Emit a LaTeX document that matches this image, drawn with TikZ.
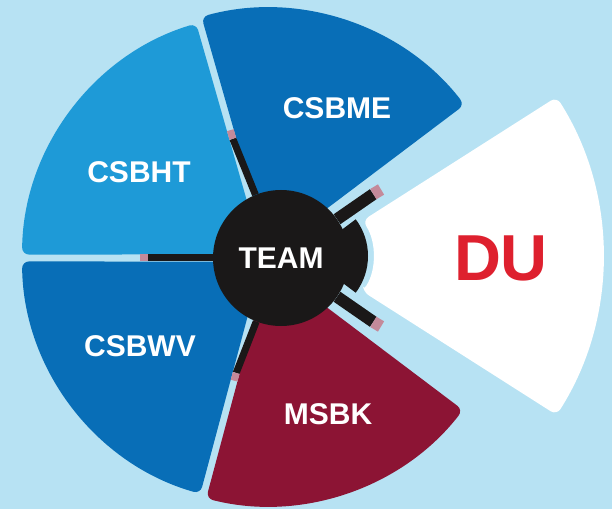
\documentclass[tikz,border=0pt]{standalone}
\usepackage{fontspec}
\setmainfont{Liberation Sans}
\usepackage{tikz}
\usetikzlibrary{calc}
\definecolor{skyback}{RGB}{183,226,243}
\definecolor{htblue}{RGB}{30,154,215}
\definecolor{meblue}{RGB}{8,110,183}
\definecolor{bkred}{RGB}{140,20,52}
\definecolor{dured}{RGB}{222,32,46}
\definecolor{hubblack}{RGB}{26,24,24}
\definecolor{tippink}{RGB}{196,138,154}
% one piece of the wheel: start angle, end angle, radius, colour
\newcommand{\wheelpiece}[4]{%
  \fill[piece, #4] ($(w)+({(#1+#2)/2}:6)$) -- ($(w)+({#1+0.8}:#3)$)
    arc[start angle={#1+0.8}, end angle={#2-0.8}, radius=#3] -- cycle;}

\begin{document}
\begin{tikzpicture}[x=1pt, y=1pt,
piece/.style={rounded corners=7pt},
piecetext/.style={text=white, font=\bfseries\fontsize{30}{30}\selectfont},
hub/.style={circle, fill=hubblack, minimum size=136pt, inner sep=0pt, text=white, font=\bfseries\fontsize{30}{30}\selectfont},
spoke/.style={draw=hubblack, line width=7pt},
spoketip/.style={draw=tippink, line width=7pt}
]
    %Background
    \fill[skyback] (0,0) rectangle (612,509);
    \useasboundingbox (0,0) rectangle (612,509);
    \coordinate (w) at (267,251);
    \coordinate (d) at (307,253);

    %Pieces
    \wheelpiece{37}{106}{250}{meblue}
    \wheelpiece{106}{180}{245}{htblue}
    \wheelpiece{180}{255}{245}{meblue}
    \wheelpiece{255}{323}{248}{bkred}
    \fill[piece, white] ($(d)+(-32.5:66)$) -- ($(d)+(-32.5:296)$)
        arc[start angle=-32.5, end angle=32.5, radius=296]
        -- ($(d)+(32.5:66)$) arc[start angle=32.5, end angle=-32.5, radius=66] -- cycle;

    %Hub
    \fill[hubblack] (d) -- ($(d)+(-37:61)$) arc[start angle=-37, end angle=37, radius=61] -- cycle;
    \node[hub] (team) at (281,251) {TEAM};

    %Spokes
    \coordinate (sp1) at ($(w)+(106:124)$);
    \coordinate (tp1) at ($(w)+(106:133)$);
    \coordinate (sp2) at ($(w)+(180:119)$);
    \coordinate (tp2) at ($(w)+(180:127)$);
    \coordinate (sp3) at ($(w)+(255:119)$);
    \coordinate (tp3) at ($(w)+(255:127)$);
    \coordinate (sp4) at ($(w)+(31:124)$);
    \coordinate (tp4) at ($(w)+(31:133)$);
    \coordinate (sp5) at ($(w)+(-31:124)$);
    \coordinate (tp5) at ($(w)+(-31:133)$);
    \draw[spoke] (team) -- (sp1);
    \draw[spoke] (team) -- (sp2);
    \draw[spoke] (team) -- (sp3);
    \draw[spoke, line width=12pt] (team) -- (sp4);
    \draw[spoke, line width=12pt] (team) -- (sp5);
    \draw[spoketip] (sp1) -- (tp1);
    \draw[spoketip] (sp2) -- (tp2);
    \draw[spoketip] (sp3) -- (tp3);
    \draw[spoketip, line width=12pt] (sp4) -- (tp4);
    \draw[spoketip, line width=12pt] (sp5) -- (tp5);

    %Labels
    \node[piecetext] (csbme) at (337,401) {CSBME};
    \node[piecetext] (csbht) at (139,337) {CSBHT};
    \node[piecetext] (csbwv) at (140,163) {CSBWV};
    \node[piecetext] (msbk)  at (328,95)  {MSBK};
    \node[text=dured, font=\bfseries\fontsize{65}{65}\selectfont] (du) at (501,251) {DU};
\end{tikzpicture}
\end{document}
